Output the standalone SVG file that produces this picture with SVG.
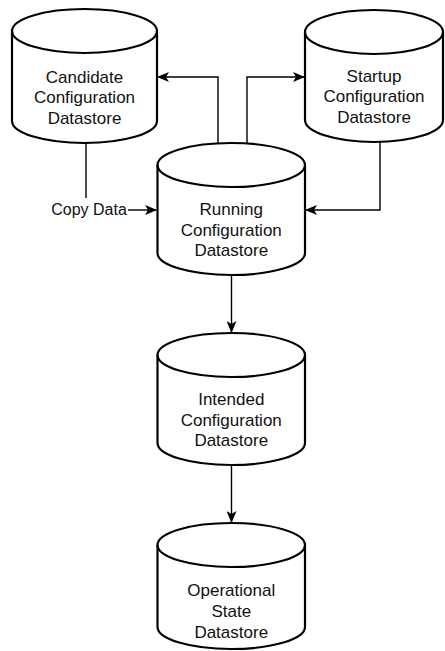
<svg xmlns="http://www.w3.org/2000/svg" width="445" height="651" viewBox="0 0 445 651">
<style>
.cyl{fill:#fff;stroke:#000;stroke-width:2.2}
.cap{fill:none;stroke:#000;stroke-width:2.2}
.t{font-family:"Liberation Sans",Arial,sans-serif;font-size:17px;fill:#111;text-anchor:middle}
.lbl{font-family:"Liberation Sans",Arial,sans-serif;font-size:16px;fill:#111;text-anchor:middle}
.e{fill:none;stroke:#000;stroke-width:1.4}
</style>
<defs>
<marker id="arr" viewBox="0 0 12 10" refX="11" refY="5" markerWidth="12" markerHeight="10" markerUnits="userSpaceOnUse" orient="auto">
<path d="M0,0 L12,5 L0,10 L3,5 Z" fill="#000"/>
</marker>
</defs>
<rect width="445" height="651" fill="#fff"/>
<g id="connectors">
<path class="e" d="M218,143 V77 H158" marker-end="url(#arr)"/>
<path class="e" d="M247,143 V77 H304" marker-end="url(#arr)"/>
<path class="e" d="M380,142 V210 H306" marker-end="url(#arr)"/>
<path class="e" d="M86,143 V198"/>
<path class="e" d="M128,210 H156" marker-end="url(#arr)"/>
<path class="e" d="M231.5,275 V332" marker-end="url(#arr)"/>
<path class="e" d="M231.5,465 V522" marker-end="url(#arr)"/>
<text class="lbl" x="89" y="215">Copy Data</text>
</g>
<g id="candidate">
<path class="cyl" d="M12,31 V121 A72.5,22 0 0 0 157,121 V31 A72.5,22 0 0 0 12,31 Z"/>
<path class="cap" d="M12,31 A72.5,22 0 0 0 157,31"/>
<text class="t" x="84.5" y="82.5">Candidate</text>
<text class="t" x="84.5" y="103">Configuration</text>
<text class="t" x="84.5" y="123.5">Datastore</text>
</g>
<g id="startup">
<path class="cyl" d="M305,32 V120 A69,22 0 0 0 443,120 V32 A69,22 0 0 0 305,32 Z"/>
<path class="cap" d="M305,32 A69,22 0 0 0 443,32"/>
<text class="t" x="374" y="81.5">Startup</text>
<text class="t" x="374" y="102">Configuration</text>
<text class="t" x="374" y="122.5">Datastore</text>
</g>
<g id="running">
<path class="cyl" d="M157.5,165 V253 A73.75,22 0 0 0 305,253 V165 A73.75,22 0 0 0 157.5,165 Z"/>
<path class="cap" d="M157.5,165 A73.75,22 0 0 0 305,165"/>
<text class="t" x="231.25" y="215">Running</text>
<text class="t" x="231.25" y="235.5">Configuration</text>
<text class="t" x="231.25" y="256">Datastore</text>
</g>
<g id="intended">
<path class="cyl" d="M157.5,355 V443 A73.75,22 0 0 0 305,443 V355 A73.75,22 0 0 0 157.5,355 Z"/>
<path class="cap" d="M157.5,355 A73.75,22 0 0 0 305,355"/>
<text class="t" x="231.25" y="405">Intended</text>
<text class="t" x="231.25" y="425.5">Configuration</text>
<text class="t" x="231.25" y="446">Datastore</text>
</g>
<g id="operational">
<path class="cyl" d="M157.5,545 V627 A73.75,22 0 0 0 305,627 V545 A73.75,22 0 0 0 157.5,545 Z"/>
<path class="cap" d="M157.5,545 A73.75,22 0 0 0 305,545"/>
<text class="t" x="231.25" y="596">Operational</text>
<text class="t" x="231.25" y="617">State</text>
<text class="t" x="231.25" y="638">Datastore</text>
</g>
</svg>
